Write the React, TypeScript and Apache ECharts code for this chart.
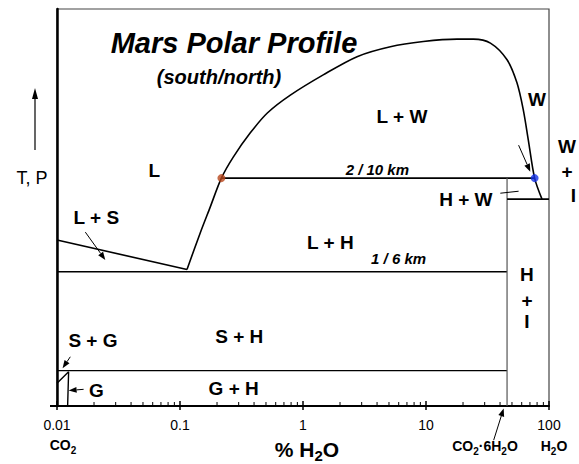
import React, { useEffect, useRef } from "react";
import * as echarts from "echarts";

// ---------- data ----------
const xMajorTicks = [0.01, 0.1, 1, 10, 100];
const xMinorTicks = [
  0.02, 0.03, 0.04, 0.05, 0.06, 0.07, 0.08, 0.09,
  0.2, 0.3, 0.4, 0.5, 0.6, 0.7, 0.8, 0.9,
  2, 3, 4, 5, 6, 7, 8, 9,
  20, 30, 40, 50, 60, 70, 80, 90,
];

// liquidus / W boundary curve (x = % H2O, y = relative T,P)
const liquidusCurve = [
  [0.114, 34.4], [0.146, 43.6], [0.176, 50.1], [0.217, 57.4], [0.271, 62.7],
  [0.373, 68.8], [0.513, 73.8], [0.789, 78.3], [1.46, 83.4], [2.75, 88.0],
  [5.13, 90.5], [9.51, 91.8], [17.9, 92.4], [24.3, 92.4], [33.4, 91.4],
  [45.6, 87.2], [54.9, 81.4], [61.8, 74.6], [67.9, 67.0], [76.4, 57.4],
  [87.7, 52.1],
];
const lsBoundary = [[0.01, 41.8], [0.114, 34.4]];
const line2_10km = [[0.217, 57.4], [76.4, 57.4]];
const line1_6km = [[0.01, 33.8], [45.6, 33.8]];
const lineSGH = [[0.01, 8.9], [45.6, 8.9]];
const hydrateLine = [[45.6, 57.4], [45.6, 0]];
const hiWiLine = [[45.6, 52.1], [100, 52.1]];
const gasBoundary = [[0.01, 5.7], [0.01243, 8.6], [0.0122, 0]];
const leaderHW = [[40.2, 53.6], [56.6, 54.1]];
const leaderI = [[102.5, 52.7], [127.6, 53.1]];

// arrows: [x1, y1, x2(head), y2(head)]
const arrows = [
  [0.01699, 43.8, 0.0247, 36.8],
  [56.6, 65.7, 70.5, 59.0],
  [0.01283, 12.4, 0.0111, 9.5],
  [0.01646, 4.2, 0.01243, 3.9],
  [35.5, -8.6, 42.8, -0.6],
];

const redPoint = [[0.217, 57.4]];
const bluePoint = [[76.4, 57.4]];

// region labels
const labelTexts = ["L", "L + S", "L + W", "W", "W", "+", "I", "H + W", "L + H", "H", "+", "I", "S + H", "S + G", "G + H", "G", "2 / 10 km", "1 / 6 km"];
const labelX = [0.0619, 0.0209, 6.38, 79.9, 140, 140, 157.6, 21.1, 1.667, 66.2, 66.2, 66.2, 0.303, 0.0196, 0.273, 0.0209, 4.02, 5.99];
const labelY = [59.2, 47.4, 72.9, 77.1, 65.3, 59.0, 52.9, 52.1, 41.1, 33.0, 26.5, 21.2, 17.5, 16.6, 4.46, 4.0, 59.6, 37.2];
const labelItalic = [false, false, false, false, false, false, false, false, false, false, false, false, false, false, false, false, true, true];

const FF = '"Liberation Sans", Arial, Helvetica, sans-serif';

export default function App() {
  const ref = useRef<HTMLDivElement>(null);
  useEffect(() => {
    document.body.style.margin = "0";
    const chart = echarts.init(ref.current!, null, { renderer: "svg" });

    const lineSeries = (data: number[][], color = "#000", width = 1.6) => ({
      type: "line",
      data,
      showSymbol: false,
      symbol: "none",
      clip: false,
      silent: true,
      lineStyle: { color, width },
      z: 3,
    });

    const subRich = (size: number) => ({
      n: { fontSize: size, fontWeight: "bold", fontFamily: FF, lineHeight: size + 6, fill: "#000" },
      s: { fontSize: Math.round(size * 0.7), fontWeight: "bold", fontFamily: FF, lineHeight: Math.round(size * 0.7), verticalAlign: "bottom", fill: "#000" },
    });

    const option: any = {
      animation: false,
      grid: { left: 57, right: 30, top: 9, bottom: 58, show: true, borderColor: "#444", borderWidth: 1.2 },
      xAxis: {
        type: "log",
        logBase: 10,
        min: 0.01,
        max: 100,
        splitLine: { show: false },
        axisLine: { show: true, lineStyle: { color: "#000", width: 2 } },
        axisTick: { show: false },
        axisLabel: {
          color: "#000",
          fontSize: 14,
          fontFamily: FF,
          margin: 12,
          formatter: (v: number) => {
            const i = xMajorTicks.findIndex((t) => Math.abs(Math.log10(t) - Math.log10(v)) < 1e-6);
            return i >= 0 ? String(xMajorTicks[i]) : "";
          },
        },
      },
      yAxis: {
        type: "value",
        min: 0,
        max: 100,
        interval: 100,
        splitLine: { show: false },
        axisLine: { show: true, lineStyle: { color: "#000", width: 2.5 } },
        axisTick: { show: true, customValues: [0], length: 7, lineStyle: { color: "#000", width: 2 } },
        axisLabel: { show: false },
      },
      series: [
        { ...lineSeries(liquidusCurve), smooth: 0.3 },
        lineSeries(lsBoundary),
        lineSeries(line2_10km),
        lineSeries(line1_6km, "#000", 1.4),
        lineSeries(lineSGH, "#000", 1.4),
        lineSeries(hydrateLine, "#555", 1.2),
        lineSeries(hiWiLine),
        lineSeries(gasBoundary, "#000", 1.4),
        lineSeries(leaderHW, "#000", 1),
        lineSeries(leaderI, "#000", 1),
        {
          type: "scatter",
          data: redPoint,
          symbolSize: 8,
          itemStyle: { color: "#b8461c" },
          z: 5,
        },
        {
          type: "scatter",
          data: bluePoint,
          symbolSize: 8,
          itemStyle: { color: "#1533e8" },
          z: 5,
        },
        // ticks
        {
          type: "custom",
          clip: false,
          silent: true,
          data: xMinorTicks.map((v) => [v, 0]),
          encode: { x: 0, y: 1 },
          renderItem: (params: any, api: any) => {
            const p = api.coord([api.value(0), 0]);
            return { type: "line", shape: { x1: p[0], y1: p[1], x2: p[0], y2: p[1] - 4 }, style: { stroke: "#000", lineWidth: 1 } };
          },
          z: 6,
        },
        {
          type: "custom",
          clip: false,
          silent: true,
          data: xMajorTicks.map((v) => [v, 0]),
          encode: { x: 0, y: 1 },
          renderItem: (params: any, api: any) => {
            const p = api.coord([api.value(0), 0]);
            return { type: "line", shape: { x1: p[0], y1: p[1] + 4, x2: p[0], y2: p[1] - 5 }, style: { stroke: "#000", lineWidth: 1.5 } };
          },
          z: 6,
        },
        // arrows
        {
          type: "custom",
          clip: false,
          silent: true,
          data: arrows,
          encode: { x: [0, 2], y: [1, 3] },
          renderItem: (params: any, api: any) => {
            const a = api.coord([api.value(0), api.value(1)]);
            const b = api.coord([api.value(2), api.value(3)]);
            const ang = Math.atan2(b[1] - a[1], b[0] - a[0]);
            const hl = 8, hw = 3;
            const bx = b[0] - hl * Math.cos(ang), by = b[1] - hl * Math.sin(ang);
            const l = [bx + hw * Math.sin(ang), by - hw * Math.cos(ang)];
            const r = [bx - hw * Math.sin(ang), by + hw * Math.cos(ang)];
            return {
              type: "group",
              children: [
                { type: "line", shape: { x1: a[0], y1: a[1], x2: bx, y2: by }, style: { stroke: "#000", lineWidth: 1 } },
                { type: "polygon", shape: { points: [b, l, r] }, style: { fill: "#000" } },
              ],
            };
          },
          z: 6,
        },
        // labels
        {
          type: "custom",
          clip: false,
          silent: true,
          data: labelX.map((x, i) => [x, labelY[i]]),
          encode: { x: 0, y: 1 },
          renderItem: (params: any, api: any) => {
            const i = params.dataIndex;
            const p = api.coord([api.value(0), api.value(1)]);
            const it = labelItalic[i];
            return {
              type: "text",
              x: p[0],
              y: p[1],
              style: {
                text: labelTexts[i],
                font: it ? `italic bold 15px ${FF}` : `bold 19px ${FF}`,
                fill: "#000",
                align: "center",
                verticalAlign: "middle",
              },
            };
          },
          z: 7,
        },
      ],
      graphic: [
        { type: "text", x: 234, y: 43, style: { text: "Mars Polar Profile", font: `italic bold 29px ${FF}`, fill: "#000", align: "center", verticalAlign: "middle" } },
        { type: "text", x: 219, y: 77, style: { text: "(south/north)", font: `italic bold 20px ${FF}`, fill: "#000", align: "center", verticalAlign: "middle" } },
        { type: "text", x: 32, y: 178, style: { text: "T, P", font: `18px ${FF}`, fill: "#000", align: "center", verticalAlign: "middle" } },
        { type: "line", shape: { x1: 35, y1: 150, x2: 35, y2: 97 }, style: { stroke: "#000", lineWidth: 1.2 } },
        { type: "polygon", shape: { points: [[35, 88], [32, 99], [38, 99]] }, style: { fill: "#000" } },
        { type: "text", x: 63, y: 445, style: { text: "{n|CO}{s|2}", rich: subRich(14), align: "center", verticalAlign: "middle" } },
        { type: "text", x: 307, y: 449, style: { text: "{n|% H}{s|2}{n|O}", rich: subRich(21), align: "center", verticalAlign: "middle" } },
        { type: "text", x: 485, y: 446, style: { text: "{n|CO}{s|2}{n|·6H}{s|2}{n|O}", rich: subRich(14), align: "center", verticalAlign: "middle" } },
        { type: "text", x: 554, y: 446, style: { text: "{n|H}{s|2}{n|O}", rich: subRich(14), align: "center", verticalAlign: "middle" } },
      ],
    };
    chart.setOption(option);
    return () => chart.dispose();
  }, []);
  return <div ref={ref} style={{ width: 579, height: 464 }} />;
}
